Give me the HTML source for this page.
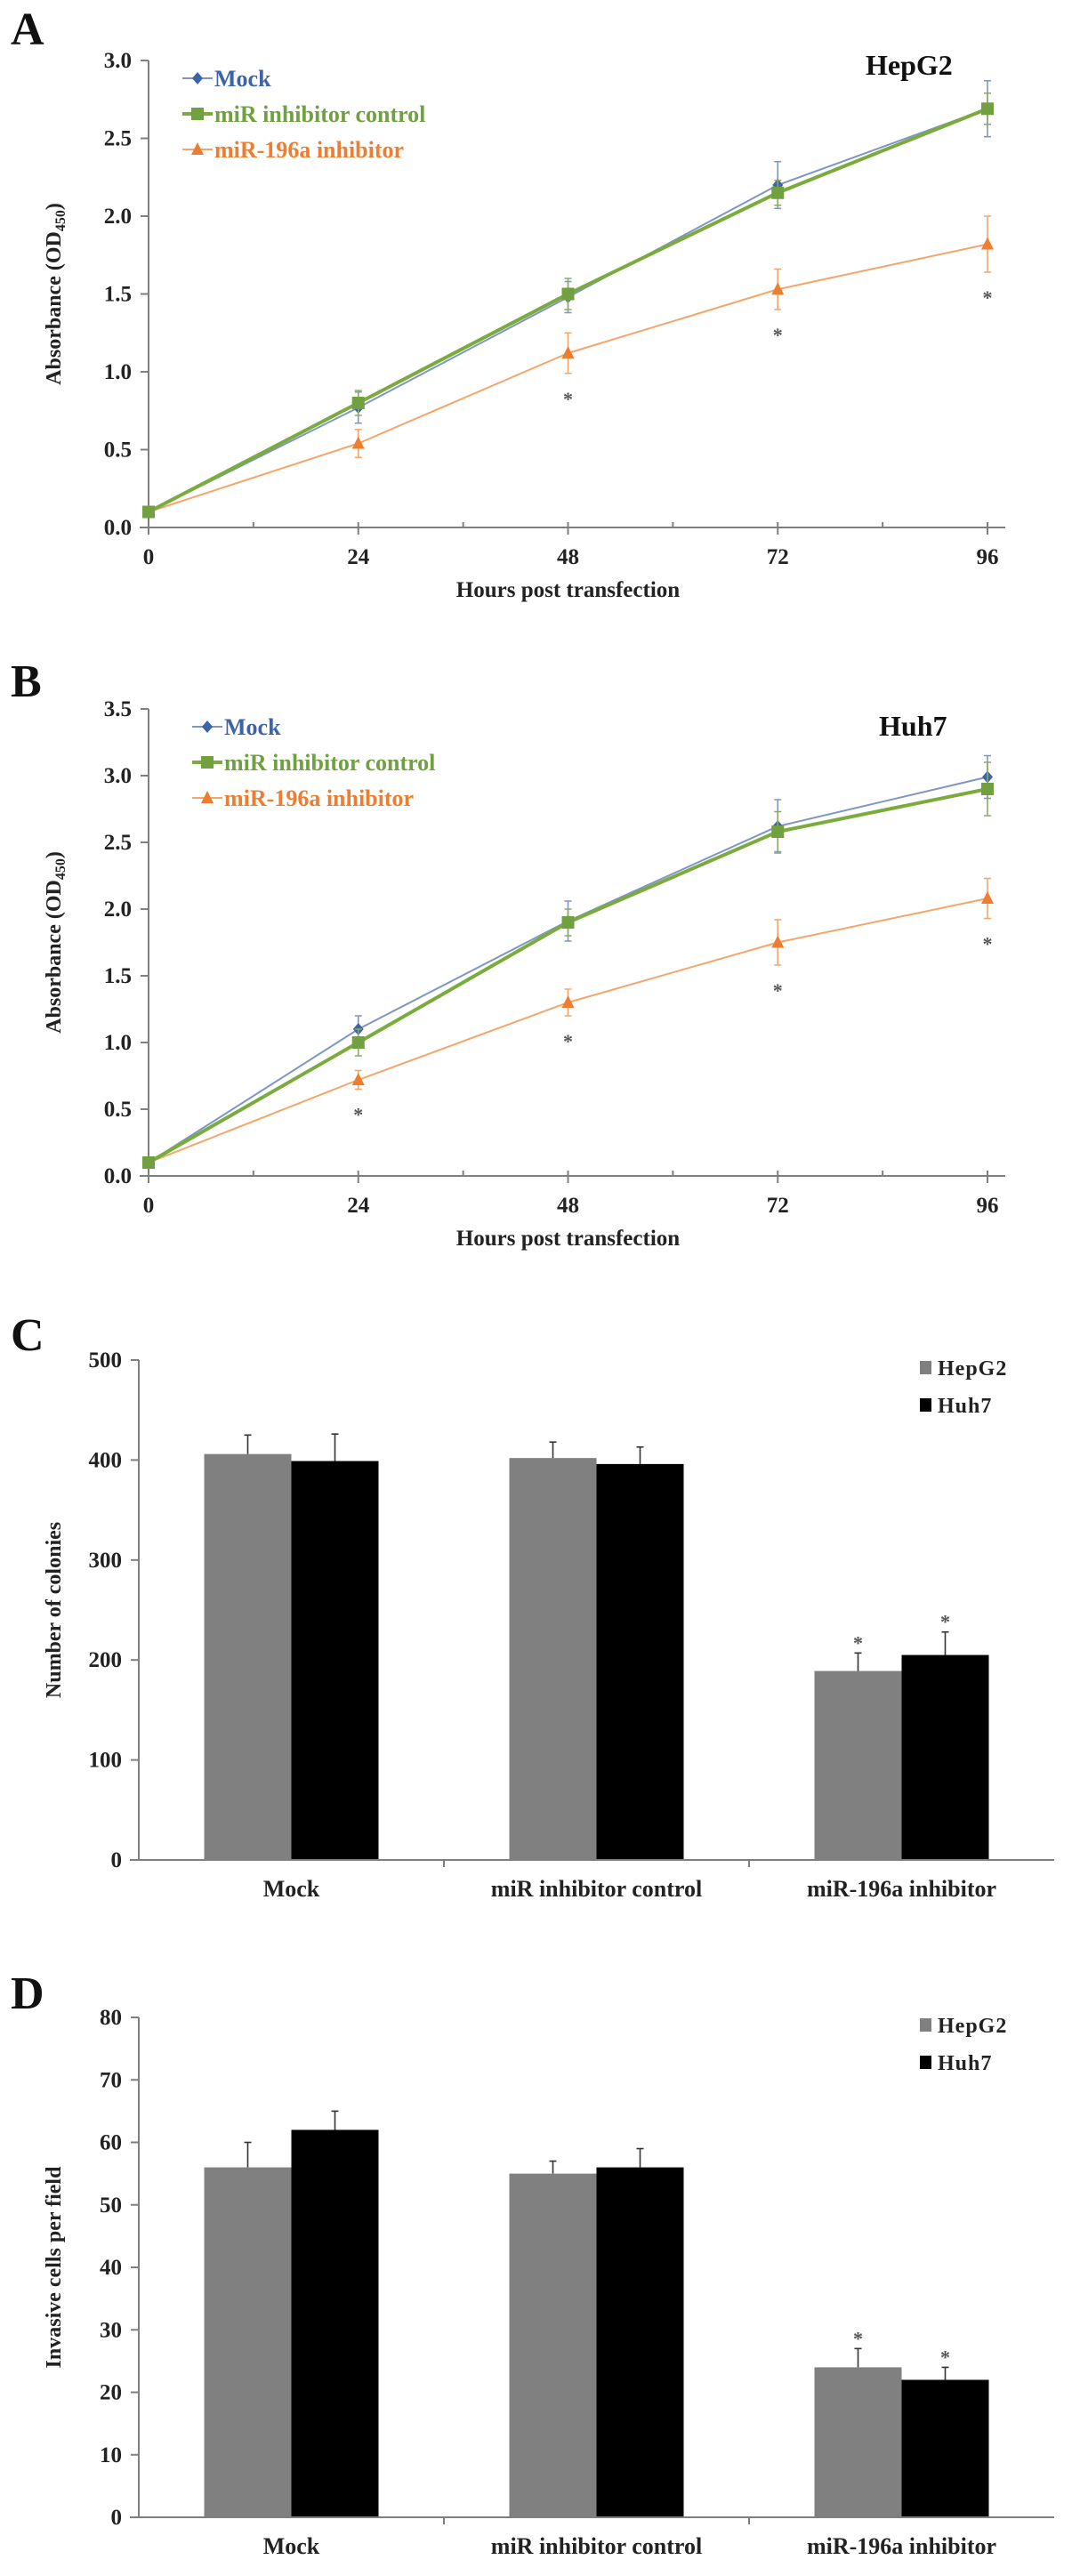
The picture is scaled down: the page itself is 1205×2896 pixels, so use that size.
<!DOCTYPE html>
<html><head><meta charset="utf-8"><style>
html,body{margin:0;padding:0;background:#fff;}
svg{display:block;font-family:"Liberation Serif",serif;font-weight:bold;}
</style></head><body>
<svg id="fig" width="1205" height="2896" viewBox="0 0 1205 2896" xmlns="http://www.w3.org/2000/svg"></svg>
<script>
const hours=[0,24,48,72,96];
const hourTicks=['0','24','48','72','96'];
const aMock=[0.1,0.77,1.48,2.2,2.69];
const aMockErr=[0.01,0.1,0.1,0.15,0.18];
const aCtrl=[0.1,0.8,1.5,2.15,2.69];
const aCtrlErr=[0.01,0.08,0.1,0.08,0.1];
const aInh=[0.1,0.54,1.12,1.53,1.82];
const aInhErr=[0.01,0.09,0.13,0.13,0.18];
const aStar=[false,false,true,true,true];
const aTicks=['0.0','0.5','1.0','1.5','2.0','2.5','3.0'];
const bMock=[0.1,1.1,1.91,2.62,2.99];
const bMockErr=[0.01,0.1,0.15,0.2,0.16];
const bCtrl=[0.1,1.0,1.9,2.58,2.9];
const bCtrlErr=[0.01,0.1,0.1,0.15,0.2];
const bInh=[0.1,0.72,1.3,1.75,2.08];
const bInhErr=[0.01,0.07,0.1,0.17,0.15];
const bStar=[false,true,true,true,true];
const bTicks=['0.0','0.5','1.0','1.5','2.0','2.5','3.0','3.5'];
const categories=['Mock','miR inhibitor control','miR-196a inhibitor'];
const cHep=[406,402,189];
const cHepErr=[19,16,18];
const cHuh=[399,396,205];
const cHuhErr=[27,17,23];
const cStar=[false,false,true];
const cTicks=['0','100','200','300','400','500'];
const dHep=[56,55,24];
const dHepErr=[4,2,3];
const dHuh=[62,56,22];
const dHuhErr=[3,3,2];
const dStar=[false,false,true];
const dTicks=['0','10','20','30','40','50','60','70','80'];

const NS='http://www.w3.org/2000/svg';
const svg=document.getElementById('fig');
function el(tag,attrs,parent,text){
  const e=document.createElementNS(NS,tag);
  for(const k in attrs)e.setAttribute(k,attrs[k]);
  if(text!==undefined)e.textContent=text;
  (parent||svg).appendChild(e);return e;
}
function grp(name){const g=el('g',{});
  
  
  return g;}
const AX='#7f7f7f';
const TF=25;

function yAxis(g,x0,y0,yTop,ticks,max,fs){
  el('line',{x1:x0,y1:y0,x2:x0,y2:yTop,stroke:AX,'stroke-width':2},g);
  ticks.forEach((t,i)=>{
    const v=parseFloat(t);const y=y0-(y0-yTop)*v/max;
    el('line',{x1:x0-9,y1:y,x2:x0,y2:y,stroke:AX,'stroke-width':2},g);
    const tx=el('text',{x:x0-19,y:y+8,'text-anchor':'end','font-size':fs,fill:'#222'},g,t);
    
    
  });
}
function marker(g,type,x,y,color){
  let m;
  if(type==='d')m=el('polygon',{points:`${x},${y-7} ${x+6},${y} ${x},${y+7} ${x-6},${y}`,fill:color},g);
  else if(type==='s')m=el('rect',{x:x-7,y:y-7,width:14,height:14,fill:color},g);
  else m=el('polygon',{points:`${x},${y-8} ${x+7},${y+6} ${x-7},${y+6}`,fill:color},g);
  
  
}
function lineChart(cfg){
  const g=grp(cfg.name);
  const sx=h=>cfg.x0+(cfg.x1-cfg.x0)*h/96;
  const sy=v=>cfg.y0-(cfg.y0-cfg.yTop)*v/cfg.max;
  yAxis(g,cfg.x0,cfg.y0,cfg.yTop,cfg.ticks,cfg.max,TF);
  el('line',{x1:cfg.x0-10,y1:cfg.y0,x2:cfg.x1+20,y2:cfg.y0,stroke:AX,'stroke-width':2},g);
  hours.forEach((h,i)=>{
    const x=sx(h);
    el('line',{x1:x,y1:cfg.y0-6,x2:x,y2:cfg.y0+8,stroke:AX,'stroke-width':2},g);
    if(i<hours.length-1)el('line',{x1:sx(h+12),y1:cfg.y0-6,x2:sx(h+12),y2:cfg.y0,stroke:AX,'stroke-width':2},g);
    const t=el('text',{x:x,y:cfg.y0+41,'text-anchor':'middle','font-size':TF,fill:'#222'},g,hourTicks[i]);
    
    
  });
  const xt=el('text',{x:(cfg.x0+cfg.x1)/2,y:cfg.y0+78,'text-anchor':'middle','font-size':TF,fill:'#222'},g,'Hours post transfection');
  
  
  const cy=(cfg.y0+cfg.yTop)/2;
  const yt=el('text',{x:0,y:0,transform:`translate(68,${cy}) rotate(-90)`,'text-anchor':'middle','font-size':24,fill:'#222'},g);
  
  
  el('tspan',{},yt,'Absorbance (OD');
  el('tspan',{'font-size':16,dy:5},yt,'450');
  el('tspan',{dy:-5},yt,')');
  const series=[
    {v:cfg.inh,e:cfg.inhE,c:'#f4a66a',mc:'#ed7d31',w:2,m:'t',n:'series-mir196a-inhibitor'},
    {v:cfg.mock,e:cfg.mockE,c:'#7f96c4',mc:'#3d64a8',w:2,m:'d',n:'series-mock'},
    {v:cfg.ctrl,e:cfg.ctrlE,c:'#7aab3c',mc:'#70a040',w:4,m:'s',n:'series-inhibitor-control'}
  ];
  series.forEach(s=>{
    const sg=el('g',{},g);
    
    
    const pts=hours.map((h,i)=>sx(h)+','+sy(s.v[i])).join(' ');
    el('polyline',{points:pts,fill:'none',stroke:s.c,'stroke-width':s.w},sg);
    hours.forEach((h,i)=>{
      if(i===0)return;
      const x=sx(h),yh=sy(s.v[i]+s.e[i]),yl=sy(s.v[i]-s.e[i]);
      el('path',{d:`M${x},${yh}V${yl}M${x-4},${yh}H${x+4}M${x-4},${yl}H${x+4}`,stroke:s.m==='s'?'#8fa86a':s.c,'stroke-width':1.6,fill:'none'},sg);
    });
    hours.forEach((h,i)=>marker(sg,s.m,sx(h),sy(s.v[i]),s.mc));
  });
  hours.forEach((h,i)=>{
    if(!cfg.star[i])return;
    const st=el('text',{x:sx(h),y:sy(cfg.inh[i]-cfg.inhE[i])+36,'text-anchor':'middle','font-size':22,fill:'#555'},g,'*');
    
    
  });
  const lg=el('g',{},g);
  
  
  const leg=[['Mock','#7f96c4','#3d64a8','d'],['miR inhibitor control','#7aab3c','#70a040','s'],['miR-196a inhibitor','#f4a66a','#ed7d31','t']];
  leg.forEach((l,i)=>{
    const y=cfg.legY+i*40;
    el('line',{x1:cfg.legX,y1:y,x2:cfg.legX+34,y2:y,stroke:l[1],'stroke-width':l[3]==='s'?4:2},lg);
    marker(lg,l[3],cfg.legX+17,y,l[2]);
    const t=el('text',{x:cfg.legX+36,y:y+9,'font-size':26,fill:l[2]},lg,l[0]);
    
    
  });
  const tt=el('text',{x:cfg.titleX,y:cfg.titleY,'font-size':32,fill:'#111'},g,cfg.title);
  
  
}
function barChart(cfg){
  const g=grp(cfg.name);
  const sy=v=>cfg.y0-(cfg.y0-cfg.yTop)*v/cfg.max;
  const gw=(cfg.x1-cfg.x0)/categories.length;
  categories.forEach((c,i)=>{
    const cx=cfg.x0+gw*(i+0.5);
    [[cfg.hep,cfg.hepE,'#808080',-1,'bar-hepg2'],[cfg.huh,cfg.huhE,'#000',0,'bar-huh7']].forEach(b=>{
      const x=cx+b[3]*98, v=b[0][i], e=b[1][i];
      const xm=x+49;
      el('line',{x1:xm,y1:sy(v),x2:xm,y2:sy(v+e),stroke:'#333','stroke-width':1.6},g);
      el('line',{x1:xm-4,y1:sy(v+e),x2:xm+4,y2:sy(v+e),stroke:'#333','stroke-width':1.6},g);
      const r=el('rect',{x:x,y:sy(v),width:98,height:cfg.y0-sy(v),fill:b[2]},g);
      
      
      if(cfg.star[i]){
        const st=el('text',{x:xm,y:sy(v+e)-4,'text-anchor':'middle','font-size':22,fill:'#555'},g,'*');
        
        
      }
    });
    const t=el('text',{x:cx,y:cfg.y0+41,'text-anchor':'middle','font-size':26,fill:'#222'},g,c);
    
    
    if(i>0)el('line',{x1:cfg.x0+gw*i,y1:cfg.y0,x2:cfg.x0+gw*i,y2:cfg.y0+8,stroke:AX,'stroke-width':2},g);
  });
  yAxis(g,cfg.x0,cfg.y0,cfg.yTop,cfg.ticks,cfg.max,TF);
  el('line',{x1:cfg.x0-10,y1:cfg.y0,x2:cfg.x1,y2:cfg.y0,stroke:AX,'stroke-width':2},g);
  const yt=el('text',{x:0,y:0,transform:`translate(68,${(cfg.y0+cfg.yTop)/2}) rotate(-90)`,'text-anchor':'middle','font-size':24,fill:'#222'},g,cfg.ytitle);
  
  
  const lg=el('g',{},g);
  
  
  [['HepG2','#808080'],['Huh7','#000']].forEach((l,i)=>{
    const y=cfg.yTop+8+i*42;
    el('rect',{x:1034,y:y-7,width:13,height:15,fill:l[1]},lg);
    const t=el('text',{x:1054,y:y+9,'font-size':24,fill:'#222','letter-spacing':1},lg,l[0]);
    
    
  });
}
[['A',50],['B',783],['C',1518],['D',2258]].forEach(p=>{
  const t=el('text',{x:12,y:p[1],'font-size':52,fill:'#111'},svg,p[0]);
  
  
});
lineChart({name:'panel-a-hepg2-chart',x0:167,x1:1110,y0:593,yTop:68,max:3.0,ticks:aTicks,
  mock:aMock,mockE:aMockErr,ctrl:aCtrl,ctrlE:aCtrlErr,inh:aInh,inhE:aInhErr,star:aStar,
  legX:205,legY:88,title:'HepG2',titleX:973,titleY:84});
lineChart({name:'panel-b-huh7-chart',x0:167,x1:1110,y0:1322,yTop:797,max:3.5,ticks:bTicks,
  mock:bMock,mockE:bMockErr,ctrl:bCtrl,ctrlE:bCtrlErr,inh:bInh,inhE:bInhErr,star:bStar,
  legX:216,legY:817,title:'Huh7',titleX:988,titleY:827});
barChart({name:'panel-c-colony-chart',x0:156,x1:1185,y0:2091,yTop:1529,max:500,ticks:cTicks,
  hep:cHep,hepE:cHepErr,huh:cHuh,huhE:cHuhErr,star:cStar,ytitle:'Number  of colonies'});
barChart({name:'panel-d-invasion-chart',x0:156,x1:1185,y0:2830,yTop:2268,max:80,ticks:dTicks,
  hep:dHep,hepE:dHepErr,huh:dHuh,huhE:dHuhErr,star:dStar,ytitle:'Invasive  cells per field'});
</script>
</body></html>
